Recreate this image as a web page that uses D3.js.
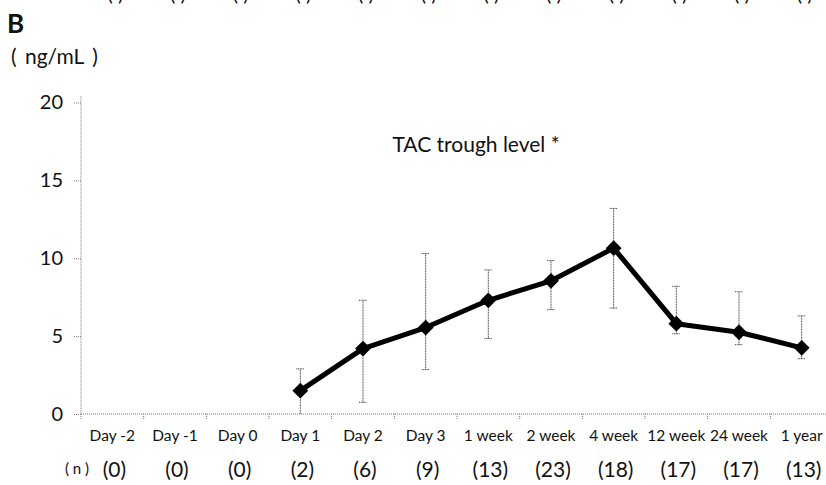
<!DOCTYPE html>
<html>
<head>
<meta charset="utf-8">
<script src="https://d3js.org/d3.v7.min.js"></script>
<style>
	body { margin: 0; background: #fff; }
	text { font-family: Lato, "Open Sans", sans-serif; fill: #111; }
</style>
</head>
<body>
<svg id="chart" width="826" height="485"></svg>
<script>
// categories and tick labels
var categories = [ 'Day -2', 'Day -1', 'Day 0', 'Day 1', 'Day 2', 'Day 3',
	'1 week', '2 week', '4 week', '12 week', '24 week', '1 year' ];
var nLabels = [ '(0)', '(0)', '(0)', '(2)', '(6)', '(9)', '(13)', '(23)', '(18)', '(17)', '(17)', '(13)' ];
var yTicks = [ 0, 5, 10, 15, 20 ];

// TAC trough level (ng/mL), null = no data
var meanValues = [ null, null, null, 1.5, 4.2, 5.55, 7.3, 8.55, 10.65, 5.8, 5.25, 4.25 ];
var upperValues = [ null, null, null, 2.9, 7.3, 10.3, 9.25, 9.85, 13.2, 8.2, 7.85, 6.3 ];
var lowerValues = [ null, null, null, 0, 0.75, 2.85, 4.85, 6.7, 6.8, 5.15, 4.45, 3.55 ];

var svg = d3.select( '#chart' );

var x = d3.scaleBand()
	.domain( categories )
	.range( [ 81, 833 ] );

var y = d3.scaleLinear()
	.domain( [ 0, 20 ] )
	.range( [ 414, 102.5 ] );

// cut off bottom of the previous panel's n row
svg.append( 'g' )
	.selectAll( 'text' ).data( categories )
	.enter().append( 'text' )
	.attr( 'x', function( d ) { return x( d ) + x.bandwidth() / 2 + 3; } )
	.attr( 'y', 1 )
	.attr( 'text-anchor', 'middle' )
	.style( 'font-size', '20px' )
	.text( '(    )' );

// panel letter and unit
svg.append( 'text' )
	.attr( 'x', 7 ).attr( 'y', 33 )
	.style( 'font-size', '26px' ).style( 'font-weight', 'bold' )
	.text( 'B' );
svg.append( 'text' )
	.attr( 'x', 11 ).attr( 'y', 64 )
	.style( 'font-size', '21px' )
	.style( 'word-spacing', '3px' )
	.text( '( ng/mL )' );

// y axis
var yAxis = svg.append( 'g' )
	.attr( 'transform', 'translate(81,0)' )
	.call( d3.axisLeft( y ).tickValues( yTicks ).tickSize( 7 ).tickPadding( 11 ) );
yAxis.select( '.domain' ).attr( 'd', 'M0,' + y( 20.4 ) + 'V' + y( 0 ) );
yAxis.selectAll( 'path, line' )
	.attr( 'stroke', '#777' ).attr( 'stroke-dasharray', '1,1' );
yAxis.selectAll( 'text' )
	.style( 'font-size', '20px' ).style( 'font-family', 'Lato, sans-serif' ).attr( 'fill', '#111' );

// x axis, ticks on the category boundaries
var xAxis = svg.append( 'g' )
	.attr( 'transform', 'translate(0,' + y( 0 ) + ')' );
xAxis.append( 'line' )
	.attr( 'x1', x.range()[ 0 ] ).attr( 'x2', x.range()[ 1 ] )
	.attr( 'stroke', '#777' ).attr( 'stroke-dasharray', '1,1' );
xAxis.selectAll( 'line.tick' ).data( categories )
	.enter().append( 'line' )
	.attr( 'class', 'tick' )
	.attr( 'x1', function( d ) { return x( d ); } )
	.attr( 'x2', function( d ) { return x( d ); } )
	.attr( 'y1', 0 ).attr( 'y2', 5 )
	.attr( 'stroke', '#777' ).attr( 'stroke-dasharray', '1,1' );
xAxis.selectAll( 'text' ).data( categories )
	.enter().append( 'text' )
	.attr( 'x', function( d ) { return x( d ) + x.bandwidth() / 2; } )
	.attr( 'y', 27 )
	.attr( 'text-anchor', 'middle' )
	.style( 'font-size', '15.5px' )
	.text( function( d ) { return d; } );

// n row
svg.append( 'text' )
	.attr( 'x', 65 ).attr( 'y', 474 )
	.style( 'font-size', '15px' )
	.text( '( n )' );
svg.append( 'g' )
	.selectAll( 'text' ).data( nLabels )
	.enter().append( 'text' )
	.attr( 'x', function( d, i ) { return x( categories[ i ] ) + x.bandwidth() / 2 + 2; } )
	.attr( 'y', 477 )
	.attr( 'text-anchor', 'middle' )
	.style( 'font-size', '21px' )
	.text( function( d ) { return d; } );

// title
svg.append( 'text' )
	.attr( 'x', 476 ).attr( 'y', 152 )
	.attr( 'text-anchor', 'middle' )
	.style( 'font-size', '21px' )
	.text( 'TAC trough level *' );

var points = categories.map( function( c, i ) {
	return { cat: c, mean: meanValues[ i ], hi: upperValues[ i ], lo: lowerValues[ i ] };
} ).filter( function( d ) { return d.mean !== null; } );

var cx = function( d ) { return x( d.cat ) + x.bandwidth() / 2; };

// error bars
var err = svg.append( 'g' )
	.attr( 'stroke', '#444' ).attr( 'stroke-width', 1 ).attr( 'stroke-dasharray', '1,0.6' );
err.selectAll( 'line.v' ).data( points )
	.enter().append( 'line' )
	.attr( 'x1', cx ).attr( 'x2', cx )
	.attr( 'y1', function( d ) { return y( d.lo ); } )
	.attr( 'y2', function( d ) { return y( d.hi ); } );
err.selectAll( 'line.hi' ).data( points )
	.enter().append( 'line' )
	.attr( 'x1', function( d ) { return cx( d ) - 4; } )
	.attr( 'x2', function( d ) { return cx( d ) + 4; } )
	.attr( 'y1', function( d ) { return y( d.hi ); } )
	.attr( 'y2', function( d ) { return y( d.hi ); } );
err.selectAll( 'line.lo' ).data( points.filter( function( d ) { return d.lo > 0; } ) )
	.enter().append( 'line' )
	.attr( 'x1', function( d ) { return cx( d ) - 4; } )
	.attr( 'x2', function( d ) { return cx( d ) + 4; } )
	.attr( 'y1', function( d ) { return y( d.lo ); } )
	.attr( 'y2', function( d ) { return y( d.lo ); } );

// mean line
svg.append( 'path' )
	.datum( points )
	.attr( 'fill', 'none' )
	.attr( 'stroke', '#000' )
	.attr( 'stroke-width', 5 )
	.attr( 'stroke-linejoin', 'round' )
	.attr( 'd', d3.line().x( cx ).y( function( d ) { return y( d.mean ); } ) );

// diamond markers
svg.append( 'g' )
	.selectAll( 'path' ).data( points )
	.enter().append( 'path' )
	.attr( 'd', d3.symbol().type( d3.symbolDiamond2 ).size( 160 ) )
	.attr( 'transform', function( d ) { return 'translate(' + cx( d ) + ',' + y( d.mean ) + ')'; } )
	.attr( 'fill', '#000' );
</script>
</body>
</html>
